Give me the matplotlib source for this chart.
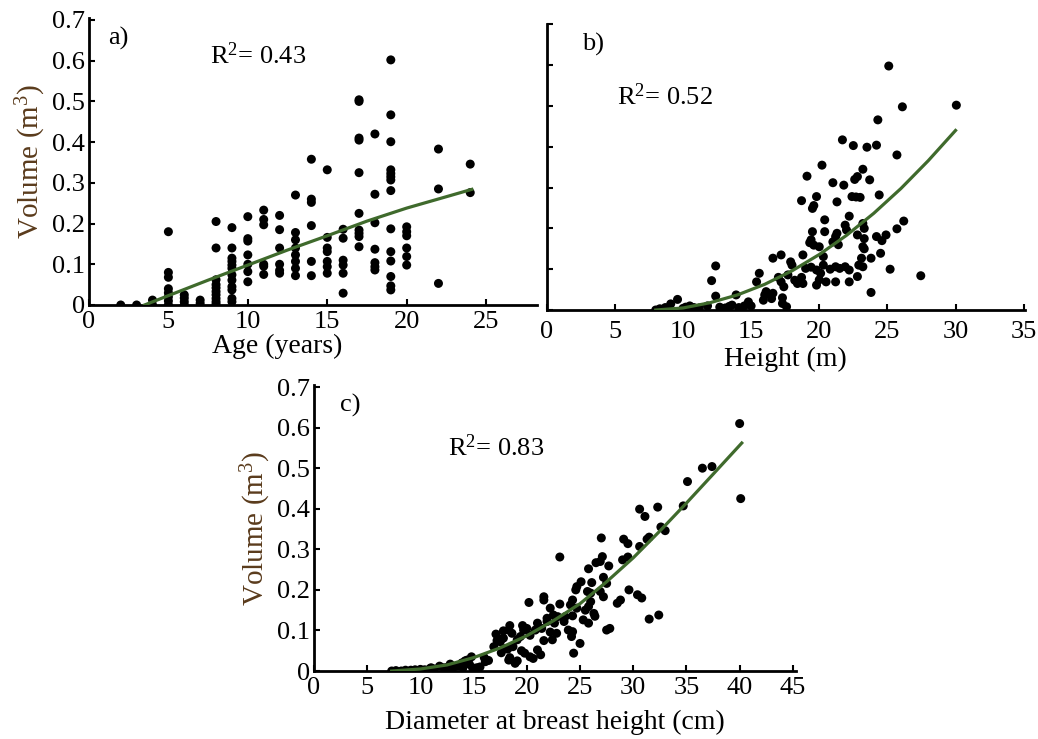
import numpy as np
import matplotlib
matplotlib.use('Agg')
import matplotlib.pyplot as plt

plt.rcParams['font.family'] = ['Liberation Serif', 'DejaVu Serif']
plt.rcParams['mathtext.fontset'] = 'custom'
plt.rcParams['mathtext.rm'] = 'Liberation Serif'
plt.rcParams['mathtext.default'] = 'regular'

# a) age vs volume, points stacked on whole-year ages
ages_a = [2, 3, 4, 5, 6, 7, 8, 9, 10, 11, 12, 13, 14, 15, 16, 17, 18, 19, 20, 22, 24]
vols_a = [
    [0.0],
    [0.0],
    [0.012, 0.0],
    [0.18, 0.08, 0.068, 0.04, 0.03, 0.02, 0.01, 0.0],
    [0.025, 0.017, 0.008, 0.0],
    [0.012, 0.004],
    [0.205, 0.14, 0.062, 0.05, 0.042, 0.033, 0.025, 0.016, 0.008, 0.002],
    [0.19, 0.14, 0.115, 0.107, 0.098, 0.09, 0.074, 0.061, 0.045, 0.037, 0.016, 0.008],
    [0.217, 0.163, 0.157, 0.123, 0.1, 0.082, 0.057],
    [0.233, 0.21, 0.197, 0.1, 0.095, 0.075],
    [0.22, 0.185, 0.14, 0.1, 0.085, 0.078],
    [0.27, 0.178, 0.16, 0.14, 0.123, 0.107, 0.09, 0.072],
    [0.358, 0.26, 0.252, 0.195, 0.107, 0.072],
    [0.332, 0.166, 0.14, 0.131, 0.107, 0.094, 0.078],
    [0.186, 0.164, 0.11, 0.098, 0.078, 0.029],
    [0.504, 0.5, 0.41, 0.405, 0.325, 0.225, 0.184, 0.176, 0.168, 0.143],
    [0.42, 0.272, 0.202, 0.137, 0.104, 0.094, 0.086],
    [0.602, 0.467, 0.401, 0.332, 0.323, 0.315, 0.307, 0.281, 0.187, 0.131, 0.108, 0.07, 0.047, 0.037],
    [0.192, 0.18, 0.17, 0.14, 0.119, 0.098],
    [0.383, 0.285, 0.053],
    [0.346, 0.276],
]
fit_age = [3.5, 5, 7.5, 10, 12.5, 15, 17.5, 20, 22.5, 24.1]
fit_vol_a = [0.0, 0.023, 0.061, 0.098, 0.135, 0.17, 0.206, 0.238, 0.266, 0.284]

# b) height vs volume
height_b = [8.0, 8.3, 8.7, 9.1, 9.6, 10.0, 10.2, 10.5, 10.8, 11.2, 11.8, 12.1, 12.4, 12.4, 12.7,
            13.1, 13.4, 13.6, 13.9, 14.1, 14.5, 14.8, 15.0, 15.4, 15.6, 15.9, 16.0, 16.1, 16.5,
            16.6, 16.6, 17.0, 17.2, 17.2, 17.3, 17.3, 17.4, 17.6, 17.7, 17.9, 18.0, 18.2, 18.4,
            18.7, 18.7, 18.8, 18.8, 19.0, 19.1, 19.3, 19.4, 19.4, 19.5, 19.5, 19.6, 19.6, 19.8,
            19.8, 19.8, 20.0, 20.0, 20.1, 20.2, 20.3, 20.3, 20.4, 20.4, 20.5, 20.8, 21.0, 21.0,
            21.2, 21.2, 21.2, 21.3, 21.3, 21.4, 21.5, 21.7, 21.8, 21.9, 21.9, 22.0, 22.2, 22.2,
            22.2, 22.4, 22.5, 22.6, 22.7, 22.8, 22.8, 22.8, 22.9, 23.0, 23.1, 23.2, 23.2, 23.2,
            23.2, 23.3, 23.3, 23.3, 23.5, 23.7, 23.8, 23.8, 24.2, 24.2, 24.4, 24.5, 24.6, 24.9,
            24.3, 25.1, 25.2, 25.7, 25.7, 26.1, 26.2, 27.45, 30.06]
vol_b = [0.0, 0.003, 0.006, 0.015, 0.026, 0.004, 0.007, 0.01, 0.006, 0.005, 0.01, 0.072, 0.108, 0.034, 0.007,
         0.005, 0.009, 0.012, 0.037, 0.006, 0.01, 0.02, 0.01, 0.069, 0.09, 0.024, 0.037, 0.045, 0.028,
         0.041, 0.127, 0.08, 0.069, 0.135, 0.03, 0.016, 0.057, 0.008, 0.086, 0.118, 0.11, 0.073, 0.065,
         0.08, 0.268, 0.065, 0.135, 0.102, 0.328, 0.165, 0.172, 0.105, 0.192, 0.249, 0.256, 0.159, 0.278,
         0.098, 0.061, 0.155, 0.074, 0.09, 0.355, 0.131, 0.11, 0.221, 0.192, 0.069, 0.10, 0.312, 0.167,
         0.18, 0.106, 0.069, 0.265, 0.188, 0.16, 0.102, 0.417, 0.306, 0.208, 0.106, 0.196, 0.23, 0.098,
         0.069, 0.278, 0.403, 0.32, 0.277, 0.327, 0.184, 0.082, 0.11, 0.276, 0.127, 0.345, 0.212, 0.155,
         0.106, 0.20, 0.175, 0.15, 0.399, 0.319, 0.127, 0.043, 0.404, 0.18, 0.282, 0.139, 0.17, 0.184,
         0.466, 0.598, 0.10, 0.38, 0.199, 0.498, 0.218, 0.084, 0.502]
fit_height = [8, 10, 12, 14, 16, 18, 20, 22, 24, 26, 28, 30]
fit_vol_b = [0.0, 0.005, 0.018, 0.037, 0.063, 0.096, 0.136, 0.183, 0.237, 0.298, 0.366, 0.44]

# c) diameter at breast height vs volume
dbh_c = [7.3, 7.7, 8.2, 8.6, 9.1, 9.5, 10.0, 10.4, 10.9, 11.0, 11.3, 11.8, 12.2, 12.6, 12.8, 13.0,
         13.1, 13.5, 13.5, 13.9, 14.0, 14.2, 14.4, 14.6, 14.8, 14.9, 15.3, 15.6, 16.0, 16.1, 16.4,
         16.9, 17.1, 17.2, 17.5, 17.6, 17.6, 17.8, 17.8, 17.9, 18.2, 18.3, 18.4, 18.3, 18.4, 18.6,
         18.7, 18.9, 19.1, 19.1, 19.4, 19.5, 19.6, 19.7, 19.8, 20.0, 20.2, 20.3,
         36.5, 37.4, 35.1, 34.7, 32.3, 30.6, 31.1, 32.6, 33.0, 31.5, 31.3, 30.6, 29.1, 29.5, 29.5,
         29.0, 27.0, 27.1, 26.9, 26.5, 27.7, 23.1, 25.8, 27.2, 27.5, 26.1, 25.1, 24.7, 24.6, 25.7,
         26.0, 26.9, 27.2, 29.6, 30.4, 30.8, 28.8, 28.5, 31.5, 32.4, 21.6, 21.6, 23.1, 22.2, 24.3,
         24.1, 24.7, 24.3, 23.6, 23.5, 22.9, 22.5, 21.9, 21.9, 22.6, 21.0, 20.8, 21.4, 22.2, 22.8,
         23.9, 24.3, 25.3, 25.8, 26.3, 26.4, 25.5, 25.8, 26.0, 27.5, 27.8, 24.2, 25.0, 24.4, 22.4,
         21.6, 20.3, 21.0, 21.3, 20.6, 40.0, 40.1]
vol_c = [0.0, 0.001, 0.0, 0.002, 0.002, 0.003, 0.004, 0.003, 0.006, 0.008, 0.005, 0.012, 0.008, 0.01, 0.017, 0.004,
         0.011, 0.014, 0.012, 0.02, 0.008, 0.025, 0.027, 0.017, 0.035, 0.008, 0.008, 0.01, 0.033, 0.023, 0.026,
         0.06, 0.091, 0.075, 0.072, 0.079, 0.045, 0.099, 0.081, 0.055, 0.054, 0.101, 0.112, 0.027, 0.033, 0.093,
         0.06, 0.019, 0.077, 0.025, 0.085, 0.05, 0.112, 0.101, 0.044, 0.105, 0.169, 0.035,
         0.50, 0.504, 0.467, 0.407, 0.404, 0.399, 0.381, 0.355, 0.346, 0.33, 0.325, 0.307, 0.325, 0.314, 0.281,
         0.274, 0.328, 0.282, 0.27, 0.267, 0.259, 0.281, 0.252, 0.231, 0.216, 0.218, 0.22, 0.208, 0.20, 0.196,
         0.192, 0.196, 0.183, 0.20, 0.188, 0.18, 0.175, 0.167, 0.128, 0.138, 0.183, 0.175, 0.165, 0.155, 0.175,
         0.163, 0.155, 0.136, 0.134, 0.122, 0.134, 0.138, 0.13, 0.122, 0.118, 0.118, 0.101, 0.105, 0.096, 0.093,
         0.101, 0.097, 0.126, 0.118, 0.142, 0.135, 0.15, 0.159, 0.171, 0.101, 0.105, 0.085, 0.068, 0.044, 0.077,
         0.075, 0.088, 0.052, 0.04, 0.031, 0.61, 0.425]
fit_dbh = [7.3, 10, 12.5, 15, 17.5, 20, 22.5, 25, 27.5, 30, 32.5, 35, 37.5, 40.2]
fit_vol_c = [0.0, 0.005, 0.015, 0.033, 0.057, 0.087, 0.124, 0.166, 0.22, 0.279, 0.345, 0.414, 0.485, 0.562]

green = '#3f6a2c'
brown = '#5a3b1c'
fs = 19
dot = 42

fig = plt.figure(figsize=(10.38, 7.39), dpi=100)
ax_a = fig.add_axes([0.0857, 0.5873, 0.4316, 0.3884])
ax_b = fig.add_axes([0.5267, 0.5805, 0.4608, 0.3865])
ax_c = fig.add_axes([0.3025, 0.0920, 0.4644, 0.3870])


def style(ax, xmax, xticks, ylabels=True, pad=3):
    ax.set_xlim(0, xmax)
    ax.set_ylim(0, 0.705)
    ax.set_xticks(xticks)
    ax.set_yticks(np.arange(0, 0.71, 0.1))
    for s in ['top', 'right']:
        ax.spines[s].set_visible(False)
    for s in ['left', 'bottom']:
        ax.spines[s].set_linewidth(2)
    ax.tick_params(direction='in', length=4, width=1.5, labelsize=fs, pad=3)
    ax.tick_params(axis='x', pad=pad)
    ax.set_xticklabels([str(t) for t in xticks])
    if ylabels:
        ax.set_yticklabels(['0'] + ['%.1f' % v for v in np.arange(0.1, 0.71, 0.1)])
    else:
        ax.set_yticklabels([])


xa = [a for a, vs in zip(ages_a, vols_a) for _ in vs]
ya = [v for vs in vols_a for v in vs]
ax_a.scatter(xa, ya, s=dot, c='black', edgecolors='none', zorder=3)
ax_a.plot(fit_age, fit_vol_a, color=green, lw=2.3, zorder=4)
style(ax_a, 28.2, [0, 5, 10, 15, 20, 25], pad=4)
ax_a.set_xlabel('Age (years)', fontsize=fs + 1, labelpad=2)
ax_a.xaxis.set_label_coords(0.42, -0.1)
ax_a.set_ylabel('Volume (m$^3$)', fontsize=fs + 2, color=brown, labelpad=3)
ax_a.text(0.042, 0.93, 'a)', transform=ax_a.transAxes, fontsize=fs, va='center')
ax_a.text(0.27, 0.87, 'R$^2$= 0.43', transform=ax_a.transAxes, fontsize=fs, va='center')

ax_b.scatter(height_b, vol_b, s=dot, c='black', edgecolors='none', zorder=3)
ax_b.plot(fit_height, fit_vol_b, color=green, lw=2.3, zorder=4)
style(ax_b, 35.1, [0, 5, 10, 15, 20, 25, 30, 35], ylabels=False, pad=8)
ax_b.set_ylim(0, 0.7)
ax_b.set_xlabel('Height (m)', fontsize=fs + 1, labelpad=3)
ax_b.text(0.074, 0.928, 'b)', transform=ax_b.transAxes, fontsize=fs, va='center')
ax_b.text(0.147, 0.746, 'R$^2$= 0.52', transform=ax_b.transAxes, fontsize=fs, va='center')

ax_c.scatter(dbh_c, vol_c, s=dot, c='black', edgecolors='none', zorder=3)
ax_c.plot(fit_dbh, fit_vol_c, color=green, lw=2.3, zorder=4)
style(ax_c, 45.3, [0, 5, 10, 15, 20, 25, 30, 35, 40, 45], pad=4)
ax_c.set_xlabel('Diameter at breast height (cm)', fontsize=fs + 1, labelpad=8)
ax_c.set_ylabel('Volume (m$^3$)', fontsize=fs + 2, color=brown, labelpad=3)
ax_c.text(0.054, 0.93, 'c)', transform=ax_c.transAxes, fontsize=fs, va='center')
ax_c.text(0.277, 0.78, 'R$^2$= 0.83', transform=ax_c.transAxes, fontsize=fs, va='center')

fig.savefig('out.png', dpi=100)
